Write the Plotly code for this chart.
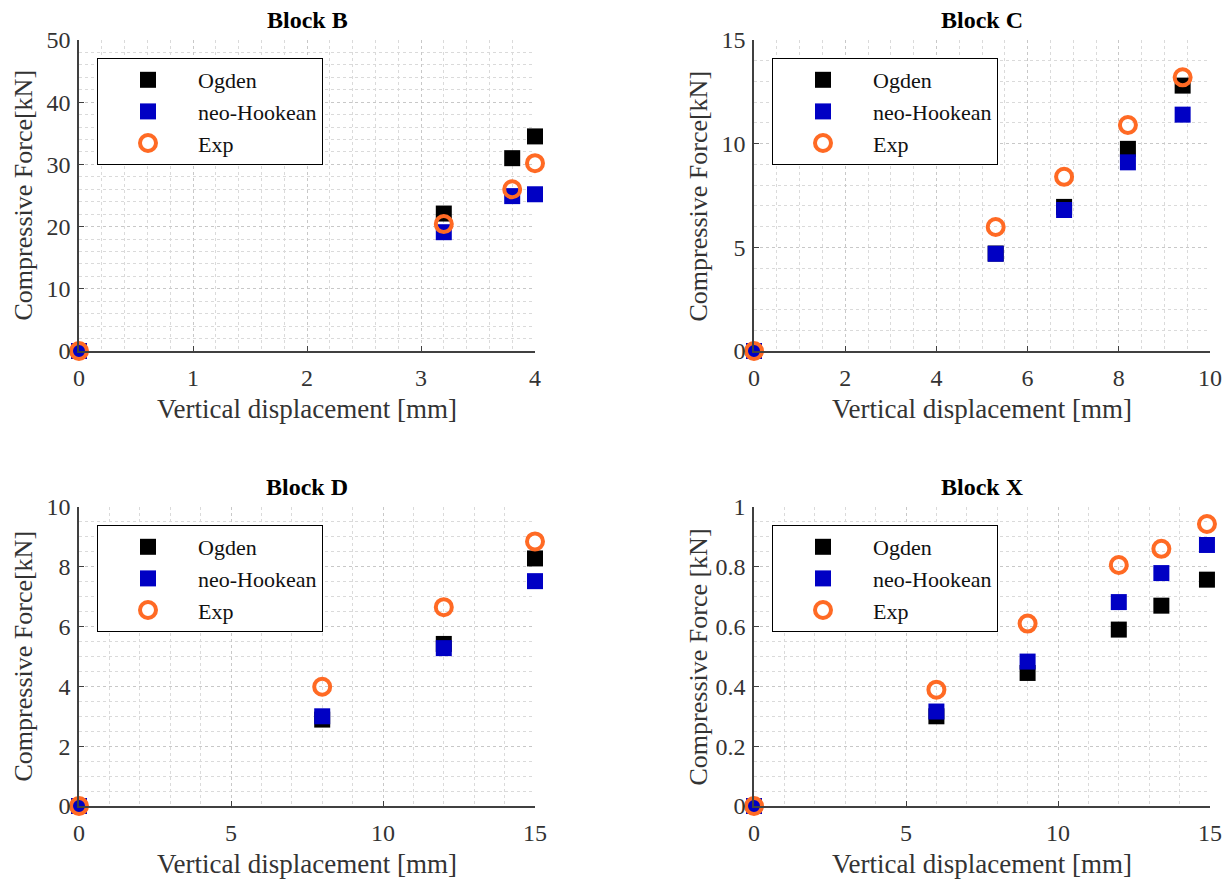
import plotly.graph_objects as go

# browser page has an 8px body margin; the figure is sized to fit the window
OFF = 8
W, H = 1231 - OFF, 881 - OFF

# ---------------- data ----------------
b_x = [0, 3.2, 3.8, 4.0]
b_ogden = [0, 22.1, 31.0, 34.5]
b_neo = [0, 19.1, 24.9, 25.2]
b_exp = [0, 20.4, 26.0, 30.2]

c_x = [0, 5.3, 6.8, 8.2, 9.4]
c_ogden = [0, 4.7, 6.95, 9.75, 12.8]
c_neo = [0, 4.69, 6.8, 9.1, 11.4]
c_exp = [0, 5.98, 8.4, 10.9, 13.2]

d_x = [0, 8, 12, 15]
d_ogden = [0, 2.89, 5.42, 8.28]
d_neo = [0, 3.0, 5.28, 7.52]
d_exp = [0, 3.99, 6.65, 8.85]

x_x = [0, 6, 9, 12, 13.4, 14.9]
x_ogden = [0, 0.30, 0.445, 0.59, 0.67, 0.757]
x_neo = [0, 0.316, 0.483, 0.682, 0.779, 0.873]
x_exp = [0, 0.389, 0.61, 0.806, 0.86, 0.943]

series_names = ["Ogden", "neo-Hookean", "Exp"]
titles = ["Block B", "Block C", "Block D", "Block X"]
y_titles = ["Compressive Force[kN]", "Compressive Force[kN]",
            "Compressive Force[kN]", "Compressive Force [kN]"]
x_title = "Vertical displacement [mm]"

FONT = "Liberation Serif"


def fx(px):
    return (px - OFF) / W


def fy(py):
    return 1 - (py - OFF) / H


panels = [
    dict(x=b_x, ys=[b_ogden, b_neo, b_exp], px=(79, 535), py=(40, 351),
         xr=[0, 4], yr=[0, 50], xd=1, xm=0.2, yd=10, ym=2),
    dict(x=c_x, ys=[c_ogden, c_neo, c_exp], px=(754, 1210), py=(40, 351),
         xr=[0, 10], yr=[0, 15], xd=2, xm=0.5, yd=5, ym=1),
    dict(x=d_x, ys=[d_ogden, d_neo, d_exp], px=(79, 535), py=(507, 806),
         xr=[0, 15], yr=[0, 10], xd=5, xm=1, yd=2, ym=0.5),
    dict(x=x_x, ys=[x_ogden, x_neo, x_exp], px=(754, 1210), py=(507, 806),
         xr=[0, 15], yr=[0, 1], xd=5, xm=1, yd=0.2, ym=0.05),
]

colors = ["#000000", "#0000C4", "#FF6A24"]

fig = go.Figure()
annotations = []

for i, p in enumerate(panels):
    n = "" if i == 0 else str(i + 1)
    xa, ya = "x" + n, "y" + n
    lg = "legend" + n
    for k, (name, yv) in enumerate(zip(series_names, p["ys"])):
        if k < 2:
            marker = dict(symbol="square", size=16, color=colors[k],
                          line=dict(width=0))
        else:
            marker = dict(symbol="circle-open", size=16, color=colors[k],
                          line=dict(width=4, color=colors[k]))
        fig.add_trace(go.Scatter(
            x=p["x"], y=yv, mode="markers", name=name, marker=marker,
            xaxis=xa, yaxis=ya, legend=lg, cliponaxis=False,
        ))
    x0, x1 = p["px"]
    y0, y1 = p["py"]
    axcommon = dict(
        showline=True, linecolor="#404040", linewidth=1.5, mirror=False,
        ticks="inside", ticklen=5, tickcolor="#404040", tickwidth=1,
        showgrid=True, gridcolor="#c8c8c8", griddash="dot", gridwidth=1,
        zeroline=False, automargin=False,
        tickfont=dict(family=FONT, size=24, color="#333333"),
    )
    fig.layout["xaxis" + n] = dict(
        axcommon, domain=[fx(x0), fx(x1)], range=p["xr"], dtick=p["xd"], tick0=0,
        anchor=ya, ticklabelstandoff=4,
        minor=dict(dtick=p["xm"], showgrid=True, gridcolor="#dadada",
                   griddash="dot", gridwidth=1),
    )
    fig.layout["yaxis" + n] = dict(
        axcommon, domain=[fy(y1), fy(y0)], range=p["yr"], dtick=p["yd"], tick0=0,
        anchor=xa, ticklabelstandoff=2,
        minor=dict(dtick=p["ym"], showgrid=True, gridcolor="#dadada",
                   griddash="dot", gridwidth=1),
    )
    fig.layout[lg] = dict(
        x=fx(x0 + 18), y=fy(y0 + 18), xanchor="left", yanchor="top",
        bgcolor="white", bordercolor="#000000", borderwidth=1,
        font=dict(family=FONT, size=22, color="#111111"),
        itemwidth=90, tracegroupgap=0,
    )
    # title
    annotations.append(dict(
        text="<b>" + titles[i] + "</b>", x=fx((x0 + x1) / 2), y=fy(y0 - 20),
        xref="paper", yref="paper", showarrow=False, xanchor="center", yanchor="middle",
        font=dict(family=FONT, size=24, color="#000000")))
    # x title
    annotations.append(dict(
        text=x_title, x=fx((x0 + x1) / 2), y=fy(y1 + 58),
        xref="paper", yref="paper", showarrow=False, xanchor="center", yanchor="middle",
        font=dict(family=FONT, size=27, color="#333333")))
    # y title
    annotations.append(dict(
        text=y_titles[i], x=fx(x0 - 56), y=fy((y0 + y1) / 2),
        xref="paper", yref="paper", showarrow=False, xanchor="center", yanchor="middle",
        textangle=-90, font=dict(family=FONT, size=26, color="#333333")))

fig.update_layout(
    width=W, height=H, margin=dict(l=0, r=0, t=0, b=0),
    paper_bgcolor="white", plot_bgcolor="white",
    annotations=annotations, showlegend=True,
)

fig.write_html("out.html")
